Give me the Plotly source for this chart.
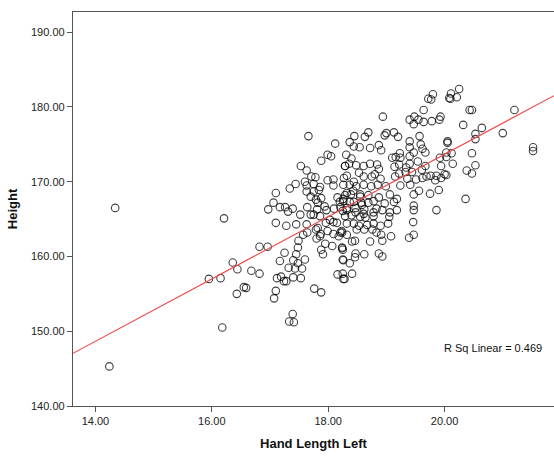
import plotly.graph_objects as go

# Hand Length Left (cm)
hand_length = [
    14.24, 14.34, 16.21, 16.36, 16.44, 16.15, 15.95, 16.43, 16.55, 16.18,
    17.66, 18.12, 17.99, 18.05, 17.88, 17.53, 17.63, 17.71, 17.78, 17.60,
    18.09, 17.44, 17.34, 17.10, 17.63, 17.75, 17.84, 17.70, 17.79, 17.88,
    17.06, 17.17, 17.26, 17.39, 16.97, 17.64, 17.81, 17.97, 18.16, 18.20,
    17.31, 17.52, 17.70, 18.10, 18.25, 18.29, 18.27,
    17.10, 17.28, 17.45, 17.63, 17.64, 17.79, 17.87, 17.96, 18.09, 18.09,
    18.18, 18.24, 17.80, 17.95, 18.07, 18.24, 16.82, 16.96, 17.49, 17.48,
    17.25, 17.45, 17.17, 17.40, 17.48, 17.60, 17.32, 17.43, 17.55, 17.88,
    17.91, 18.25, 16.68, 16.82, 16.59, 17.12, 17.19, 17.24, 17.28, 17.40,
    17.53, 18.16, 18.26, 17.10, 17.07, 17.76, 17.88, 17.39, 17.33, 17.41,
    19.80, 19.72, 19.77, 20.08, 19.64, 18.94, 19.40, 19.48, 19.55, 19.47,
    19.64, 19.78, 19.91, 19.93, 20.05, 18.45, 18.63, 18.69, 18.97, 19.00,
    19.13, 19.20, 19.57, 18.37, 18.44, 18.54, 18.72, 18.87, 18.91, 19.40,
    19.40, 19.59, 19.62, 19.67, 19.47, 19.23, 19.16, 19.24, 19.40, 19.54,
    19.40, 18.31, 18.40, 18.36, 18.29, 18.48, 18.61, 18.72, 18.84, 18.87,
    19.10, 19.14, 19.22, 19.34, 19.33, 19.44, 19.61, 19.67, 19.92, 20.03,
    19.94, 20.00, 19.86, 18.53, 18.32, 18.61, 18.75, 18.80, 18.90, 18.44,
    19.15, 19.22, 19.36, 19.51, 19.62, 19.69, 19.76, 19.84, 19.94,
    18.26, 18.37, 18.48, 18.61, 18.74, 18.85, 18.99, 19.24, 19.41, 19.56,
    19.75, 19.90, 19.47, 18.29, 18.39, 18.55, 18.69, 18.87, 19.06, 19.18,
    18.26, 18.44, 18.57, 18.78, 18.97, 19.13, 19.47, 19.47, 19.86, 18.32,
    18.47, 18.62, 18.83, 18.93, 19.06, 19.18, 18.29, 18.40, 18.55, 18.64,
    18.78, 19.05, 18.32, 18.44, 18.53, 18.67, 18.78, 18.90, 19.03, 19.46,
    18.23, 18.32, 18.49, 18.62, 18.76, 18.83, 18.91, 19.08, 19.47, 19.39,
    18.41, 18.46, 18.72, 18.93, 18.24, 18.25, 18.47, 18.46, 18.62, 18.87,
    18.93, 18.26, 18.37, 18.25, 18.41, 18.28,
    20.25, 20.11, 20.21, 20.10, 20.43, 20.47, 21.20, 20.32, 20.64, 21.00,
    20.53, 20.53, 20.05, 21.52, 21.52, 20.12, 20.47, 20.03, 20.14, 20.53,
    20.38, 20.47, 20.03, 20.36,
    17.63, 17.75, 17.86, 18.32, 18.43, 18.55, 18.26, 18.37, 18.58, 18.69,
    18.21, 18.32, 18.47, 18.61, 18.78, 17.82, 17.94, 17.75, 17.86, 18.03,
    18.15, 17.82, 17.99, 18.21, 17.57, 17.86, 18.09, 17.99,
]

# Height (cm)
height = [
    145.3, 166.5, 165.1, 159.2, 158.3, 157.1, 157.0, 155.0, 155.9, 150.5,
    176.1, 175.1, 173.6, 173.4, 172.8, 172.1, 171.5, 170.7, 170.6, 170.0,
    170.3, 169.7, 169.1, 168.5, 168.7, 168.7, 168.9, 168.0, 167.6, 167.8,
    167.2, 166.6, 166.6, 166.4, 166.3, 166.6, 166.3, 166.2, 167.9, 167.3,
    166.0, 165.6, 165.6, 166.4, 166.1, 172.1, 170.5,
    164.5, 164.1, 164.3, 164.3, 163.2, 163.6, 163.0, 164.5, 164.6, 163.0,
    162.7, 163.2, 162.4, 161.7, 161.4, 161.1, 161.3, 161.3, 162.1, 161.2,
    160.5, 160.3, 159.4, 159.5, 159.1, 159.6, 158.5, 158.4, 158.4, 160.9,
    160.3, 159.6, 158.1, 157.7, 155.8, 157.1, 157.3, 156.7, 156.7, 157.2,
    157.1, 157.6, 157.0, 155.4, 154.4, 155.7, 155.2, 152.3, 151.3, 151.2,
    181.7, 181.1, 181.0, 181.2, 179.6, 178.7, 178.3, 178.7, 178.3, 177.7,
    178.0, 178.1, 178.3, 178.7, 175.4, 176.1, 176.0, 176.6, 176.2, 176.5,
    176.6, 176.0, 176.1, 175.3, 174.7, 174.6, 174.5, 174.9, 174.2, 175.4,
    174.6, 175.0, 174.4, 173.9, 173.9, 173.8, 173.3, 173.2, 173.4, 172.7,
    172.4, 173.6, 173.1, 172.4, 172.1, 172.2, 172.1, 172.4, 172.3, 171.7,
    173.2, 172.0, 172.3, 171.9, 171.3, 171.3, 171.6, 172.1, 173.2, 173.9,
    172.1, 171.0, 170.8, 171.2, 170.8, 170.7, 170.7, 171.0, 170.4, 170.0,
    170.7, 171.1, 170.4, 170.3, 170.5, 170.7, 170.8, 170.2, 170.5,
    169.6, 169.6, 169.4, 169.6, 169.4, 169.6, 169.4, 169.5, 169.6, 168.8,
    168.4, 168.9, 168.3, 168.2, 168.3, 168.0, 168.2, 167.9, 168.3, 167.7,
    167.4, 167.3, 167.2, 167.4, 167.1, 167.3, 166.8, 166.2, 166.2, 166.5,
    166.5, 166.3, 166.4, 166.2, 165.9, 166.2, 165.4, 165.5, 165.3, 165.2,
    165.4, 165.3, 164.4, 164.4, 164.1, 164.2, 164.4, 164.1, 164.4, 164.6,
    163.4, 162.9, 163.6, 163.6, 163.6, 163.2, 162.9, 162.7, 162.9, 162.5,
    162.0, 162.1, 162.0, 162.1, 161.2, 160.9, 160.4, 159.9, 160.3, 160.4,
    160.0, 159.5, 159.1, 157.7, 157.7, 157.0,
    182.4, 181.8, 181.3, 181.1, 179.6, 179.6, 179.6, 177.6, 177.2, 176.5,
    176.4, 175.7, 175.2, 174.6, 174.1, 173.8, 173.8, 173.3, 172.4, 172.2,
    171.5, 171.1, 170.9, 167.7,
    169.5, 169.7, 169.3, 168.5, 168.8, 168.3, 167.7, 167.3, 166.9, 167.2,
    166.6, 166.2, 165.9, 165.7, 165.9, 167.2, 166.7, 165.6, 165.4, 164.9,
    164.5, 163.8, 163.4, 163.2, 162.9, 162.7, 169.5, 170.2,
]

# Linear fit shown in the chart
fit_intercept = 90.27
fit_slope = 4.17
fit_label = "R Sq Linear = 0.469"

x_range = [13.615, 21.88]
y_range = [140, 192.7]
x_ticks = [14, 16, 18, 20]
y_ticks = [140, 150, 160, 170, 180, 190]

fig = go.Figure()
fig.add_trace(go.Scatter(
    x=hand_length, y=height, mode="markers",
    marker=dict(symbol="circle-open", size=7.5,
                color="rgba(0,0,0,0.75)", line=dict(width=1.1)),
    showlegend=False, hoverinfo="skip",
))
fig.add_trace(go.Scatter(
    x=x_range, y=[fit_intercept + fit_slope * v for v in x_range],
    mode="lines", line=dict(color="#f0504f", width=1.2),
    showlegend=False, hoverinfo="skip",
))
fig.add_annotation(
    x=20.83, y=147.7, xref="x", yref="y", text=fit_label, showarrow=False,
    font=dict(family="Liberation Sans, Arial", size=11, color="#111"),
)

font = "Liberation Sans, Arial, sans-serif"
fig.update_layout(
    width=554, height=457,
    margin=dict(l=73, r=0, t=12, b=51),
    paper_bgcolor="white", plot_bgcolor="white",
    font=dict(family=font, size=11, color="#222"),
)
fig.update_xaxes(
    range=x_range, tickvals=x_ticks, ticktext=[f"{v:.2f}" for v in x_ticks],
    showgrid=False, zeroline=False, showline=True, linecolor="#555",
    linewidth=1.3, mirror=True, ticks="outside", ticklen=5, tickcolor="#555",
    tickfont=dict(size=11, color="#222"),
    title=dict(text="<b>Hand Length Left</b>", font=dict(size=13, color="#111"), standoff=12),
)
fig.update_yaxes(
    range=y_range, tickvals=y_ticks, ticktext=[f"{v:.2f}" for v in y_ticks],
    showgrid=False, zeroline=False, showline=True, linecolor="#555",
    linewidth=1.3, mirror=False, ticks="outside", ticklen=5, tickcolor="#555",
    tickfont=dict(size=11, color="#222"),
    title=dict(text="<b>Height</b>", font=dict(size=13, color="#111"), standoff=10),
)
fig.write_html(
    "out.html",
    config={"displayModeBar": False},
    post_script="document.body.style.margin='0';document.body.style.overflow='hidden';",
)
